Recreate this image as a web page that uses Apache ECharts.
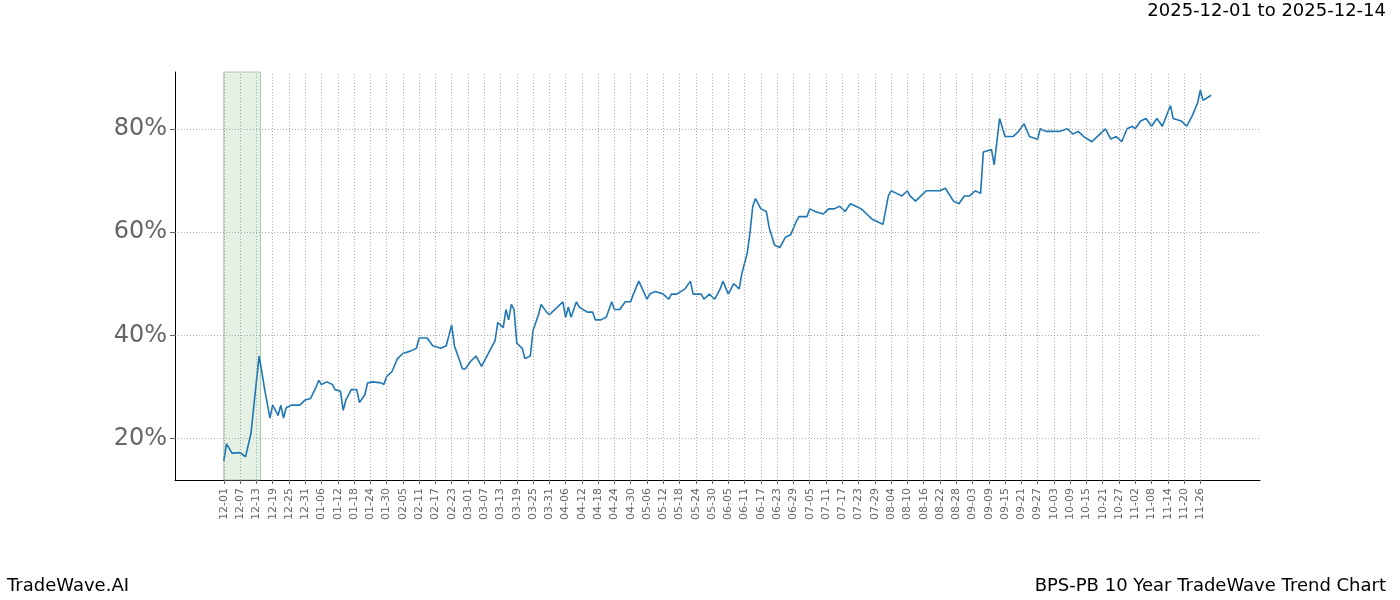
<!DOCTYPE html>
<html><head><meta charset="utf-8">
<script src="https://cdn.jsdelivr.net/npm/echarts@6/dist/echarts.min.js"></script>
<style>html,body{margin:0;padding:0;background:#fff}#c{width:1400px;height:600px}</style>
</head><body><div id="c"></div>
<script>
const startDate = Date.UTC(2024, 11, 1);
const dayOffsets = [0,1,3,6,8,10,11,13,14,15,17,18,20,21,22,23,25,28,30,32,34,35,36,38,40,41,43,44,45,47,49,50,52,53,55,58,59,60,62,64,66,69,71,72,75,77,80,82,84,85,86,88,89,91,93,95,97,98,100,101,103,104,105,106,107,108,110,111,113,114,116,117,119,120,122,123,125,126,127,128,130,131,134,136,137,139,141,143,144,146,148,150,151,153,156,157,159,162,164,165,167,170,172,173,176,177,179,181,183,184,186,188,190,191,193,194,195,196,198,200,201,203,205,207,209,211,212,215,216,218,221,223,225,227,229,231,233,235,237,239,241,243,245,246,248,250,252,253,255,257,259,261,264,266,269,271,273,275,277,279,280,283,284,286,288,291,293,295,297,300,301,303,305,308,311,313,315,317,320,322,325,327,329,331,333,335,336,338,340,342,344,346,349,350,353,355,357,359,360,361,364];
const values = [15.7,19,17.2,17.3,16.5,21,26,36,33,29.7,24,26.5,24.5,26.5,24,26,26.5,26.5,27.5,27.8,30,31.3,30.5,31,30.5,29.5,29.2,25.5,27.5,29.5,29.5,27,28.5,30.8,31,30.8,30.5,32,33,35.5,36.5,37,37.5,39.5,39.5,38,37.5,38,42,38,36.5,33.5,33.5,35,36,34,36,37,39,42.5,41.5,45,43,46,45,38.5,37.5,35.5,36,41,44,46,44.5,44,45,45.5,46.5,43.5,45.5,43.5,46.5,45.5,44.5,44.5,43,43,43.5,46.5,45,45,46.5,46.5,48,50.5,47,48,48.5,48,47,48,48,49,50.5,48,48,47,48,47,49,50.5,48,50,49,52,56,60,65,66.5,64.5,64,61,57.5,57,59,59.5,62,63,63,64.5,64,63.5,64.5,64.5,65,64,65.5,65,64.5,63.5,62.5,62,61.5,67,68,67.5,67,68,67,66,67,68,68,68,68.5,66,65.5,67,67,68,67.5,75.5,76,73,82,78.5,78.5,79.5,81,78.5,78,80,79.5,79.5,79.5,80,79,79.5,78.5,77.5,78.5,80,78,78.5,77.5,80,80.5,80,81.5,82,80.5,82,80.5,84.5,82,81.5,80.5,82.5,85,87.5,85.5,86.5];
const yTicks = [20,40,60,80];
const xTicks = []; for (let d = 0; d <= 360; d += 6) xTicks.push(d);
const shadeRange = [0, 13.5];
const title = '2025-12-01 to 2025-12-14';
const leftText = 'TradeWave.AI';
const rightText = 'BPS-PB 10 Year TradeWave Trend Chart';

function fmt(d){const t=new Date(startDate+d*86400000);return String(t.getUTCMonth()+1).padStart(2,'0')+'-'+String(t.getUTCDate()).padStart(2,'0');}
const gridStyle = {color:'#888', type:[1,2], width:0.7};
const chart = echarts.init(document.getElementById('c'));
chart.setOption({
  animation:false,
  graphic:[
    {type:'text', right:14, top:2, style:{text:title, font:'18px "DejaVu Sans"', fill:'#000'}},
    {type:'text', left:7, top:577, style:{text:leftText, font:'18px "DejaVu Sans"', fill:'#000'}},
    {type:'text', right:14, top:577, style:{text:rightText, font:'18px "DejaVu Sans"', fill:'#000'}}
  ],
  grid:{left:175, right:140, top:72, bottom:120},
  xAxis:{type:'value', min:-18, max:382, interval:6,
    axisLine:{onZero:false, lineStyle:{color:'#000'}}, splitLine:{show:false},
    axisTick:{customValues:xTicks, length:4, lineStyle:{color:'#666'}},
    axisLabel:{customValues:xTicks, rotate:90, color:'#666', fontSize:11, fontFamily:'DejaVu Sans', formatter:fmt}},
  yAxis:{type:'value', min:12, max:91,
    axisLine:{show:true, onZero:false, lineStyle:{color:'#000'}}, splitLine:{show:false},
    axisTick:{show:true, customValues:yTicks, length:5, lineStyle:{color:'#666'}},
    axisLabel:{customValues:yTicks, color:'#666', fontSize:24, fontFamily:'DejaVu Sans', formatter:v=>v+'%'}},
  series:[{type:'line', showSymbol:false, lineStyle:{color:'#1f77b4', width:1.6},
    data: dayOffsets.map((d,i)=>[d, values[i]]),
    markLine:{silent:true, symbol:'none', label:{show:false}, lineStyle:gridStyle,
      data: yTicks.map(v=>({yAxis:v})).concat(xTicks.map(v=>({xAxis:v})))},
    markArea:{silent:true, itemStyle:{color:'rgba(160,205,160,0.28)', borderColor:'rgba(120,170,120,0.6)', borderWidth:1},
      data:[[{xAxis:shadeRange[0]},{xAxis:shadeRange[1]}]]}
  }]
});
</script></body></html>
